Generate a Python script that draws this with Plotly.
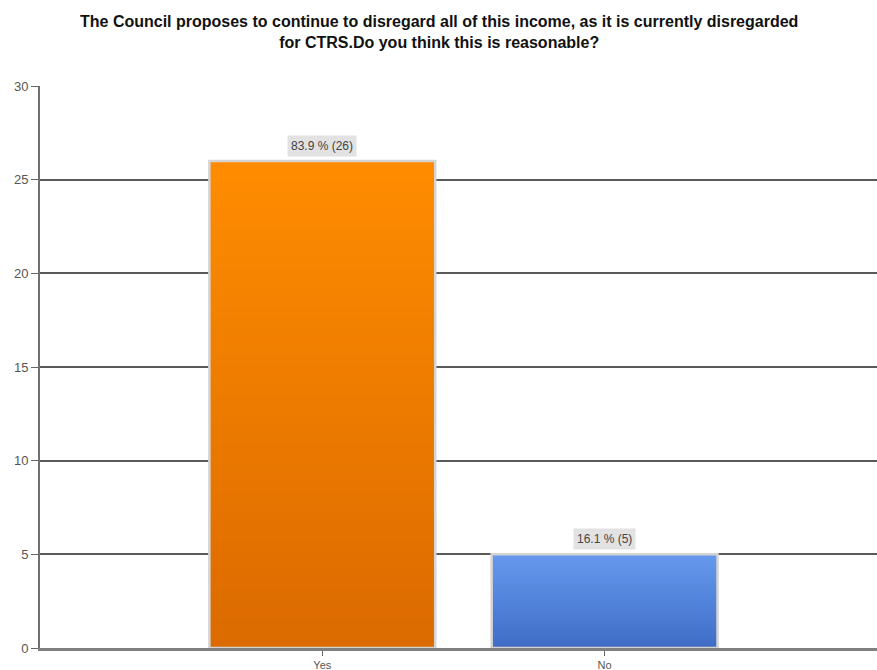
import plotly.graph_objects as go

categories = ["Yes", "No"]
counts = [26, 5]
percents = [83.9, 16.1]
top_colors = ["#FF8C00", "#6699EE"]
bottom_colors = ["#DB6A00", "#3F6DC6"]
yticks = [0, 5, 10, 15, 20, 25, 30]
title_text = ("The Council proposes to continue to disregard all of this income, as it is currently disregarded"
              "<br>for CTRS.Do you think this is reasonable?")

def hex2rgb(h):
    h = h.lstrip("#")
    return tuple(int(h[i:i+2], 16) for i in (0, 2, 4))

def mix(c1, c2, t):
    a, b = hex2rgb(c1), hex2rgb(c2)
    return "rgb(%d,%d,%d)" % tuple(round(a[i] + (b[i] - a[i]) * t) for i in range(3))

N = 50
fig = go.Figure()
# gradient rendered as overlapping slices of each bar (each slice reaches the bar top)
for k in range(N):
    t = (k + 0.5) / N
    fig.add_trace(go.Bar(
        x=categories,
        y=[v * (N - k) / N for v in counts],
        base=[v * k / N for v in counts],
        marker=dict(color=[mix(bottom_colors[i], top_colors[i], t) for i in range(len(categories))],
                    line=dict(width=0)),
        width=0.8,
        showlegend=False,
        hoverinfo="skip",
    ))
# outline trace
fig.add_trace(go.Bar(
    x=categories, y=counts,
    marker=dict(color="rgba(0,0,0,0)", line=dict(color="#D4D4D4", width=2.5)),
    width=0.8, showlegend=False,
))

for c, v, p in zip(categories, counts, percents):
    fig.add_annotation(x=c, y=v, text=f"{p} % ({v})", showarrow=False,
                       yanchor="bottom", yshift=4, bgcolor="#E2E2E2",
                       font=dict(family="Liberation Sans, Arial", size=12, color="#444"),
                       borderpad=3)

fig.add_annotation(text="<b>" + title_text + "</b>", xref="paper", yref="paper",
                   x=(438.5 - 40) / 837, y=1 + (86 - 32) / 562, xanchor="center", yanchor="middle",
                   showarrow=False, align="center",
                   font=dict(family="Liberation Sans, Arial", size=16, color="#111"))

fig.update_layout(
    barmode="overlay",
    width=877, height=670,
    margin=dict(l=40, r=0, t=86, b=22),
    paper_bgcolor="white", plot_bgcolor="white",
    xaxis=dict(range=[-1.0, 1.965], showgrid=False, showline=True, linecolor="#808080", linewidth=3,
               ticks="outside", ticklen=5, tickcolor="#666",
               tickfont=dict(family="Liberation Sans, Arial", size=11, color="#555"), fixedrange=True),
    yaxis=dict(range=[0, 30], tickvals=yticks, showgrid=True, gridcolor="#5A5A5A", gridwidth=1.5,
               showline=True, linecolor="#707070", linewidth=2, ticks="outside", ticklen=7, tickcolor="#666",
               automargin=False,
               tickfont=dict(family="Liberation Sans, Arial", size=13, color="#555"), zeroline=False),
)
fig.write_html("out.html", config={"displayModeBar": False},
               post_script="document.body.style.margin='0';document.body.style.overflow='hidden';")
